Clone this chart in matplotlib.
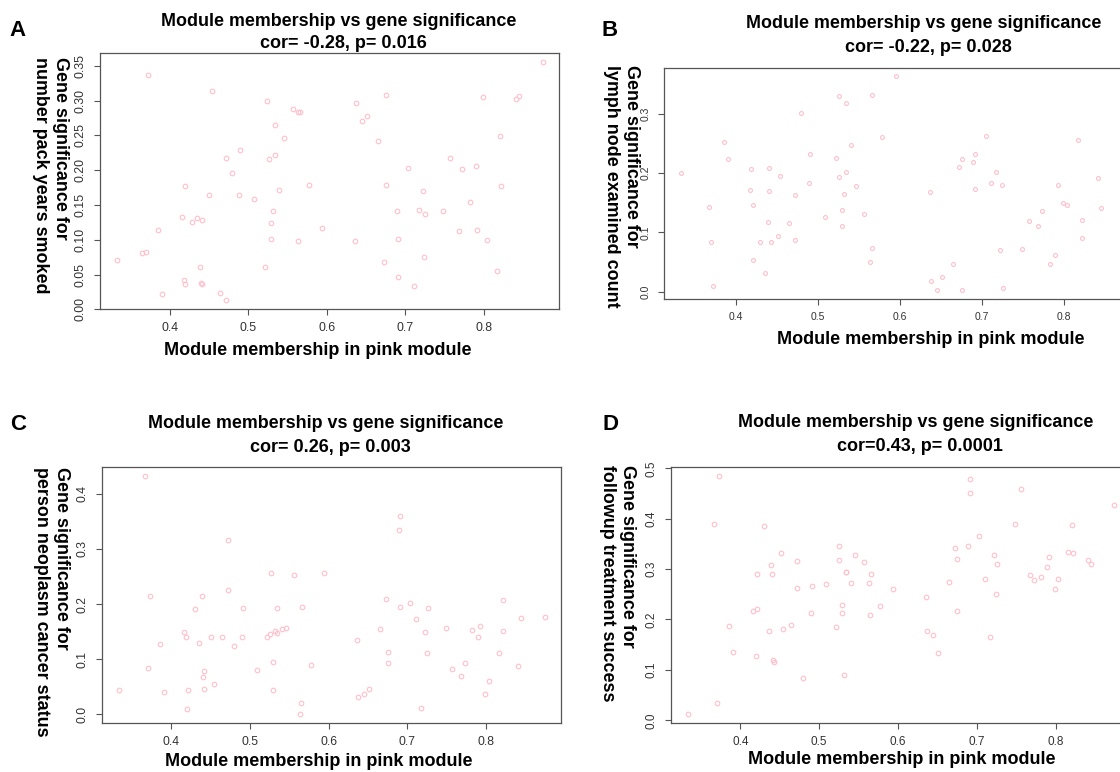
import matplotlib
matplotlib.use('Agg')
import matplotlib.pyplot as plt

plt.rcParams['font.family'] = ['Liberation Sans', 'DejaVu Sans']

# panel A: pack years smoked
a_mm = [0.372, 0.4535, 0.524, 0.534, 0.5456, 0.490, 0.4717, 0.526, 0.534, 0.479,
        0.420, 0.4505, 0.4887, 0.508, 0.5396, 0.532, 0.529, 0.416, 0.4288, 0.4348,
        0.4408, 0.3855, 0.5287, 0.3325, 0.365, 0.370, 0.439, 0.5218, 0.418, 0.420,
        0.4395, 0.4415, 0.390, 0.4637, 0.4713, 0.875, 0.6755, 0.799, 0.8415, 0.8454,
        0.637, 0.5567, 0.563, 0.566, 0.6513, 0.6445, 0.665, 0.821, 0.757, 0.773,
        0.7898, 0.704, 0.5775, 0.6755, 0.8225, 0.7227, 0.783, 0.689, 0.717, 0.7256,
        0.7487, 0.5944, 0.7685, 0.7918, 0.5634, 0.6365, 0.6913, 0.8042, 0.7243, 0.6726,
        0.8166, 0.6908, 0.7112]
a_gs = [0.336, 0.313, 0.299, 0.265, 0.246, 0.229, 0.218, 0.2165, 0.221, 0.196,
        0.177, 0.164, 0.164, 0.159, 0.172, 0.141, 0.124, 0.133, 0.126, 0.131,
        0.128, 0.114, 0.1006, 0.0708, 0.081, 0.082, 0.061, 0.061, 0.0417, 0.036,
        0.038, 0.037, 0.022, 0.024, 0.013, 0.355, 0.3075, 0.305, 0.3026, 0.307,
        0.297, 0.2874, 0.283, 0.284, 0.2777, 0.2706, 0.242, 0.2485, 0.217, 0.2016,
        0.2055, 0.2035, 0.179, 0.178, 0.1776, 0.1695, 0.1546, 0.1408, 0.1431, 0.1374,
        0.1417, 0.1168, 0.113, 0.1144, 0.0986, 0.0981, 0.1014, 0.100, 0.0747, 0.068,
        0.0546, 0.046, 0.0335]

# panel B: lymph node examined count
b_mm = [0.3333, 0.386, 0.391, 0.367, 0.370, 0.3726, 0.4792, 0.4908, 0.4896, 0.419,
        0.441, 0.4544, 0.417, 0.4403, 0.4204, 0.4718, 0.4398, 0.4643, 0.451, 0.4721,
        0.4295, 0.4423, 0.4208, 0.4357, 0.5082, 0.5219, 0.526, 0.5343, 0.5323, 0.529,
        0.5294, 0.5252, 0.5343, 0.540, 0.5945, 0.5663, 0.5778, 0.546, 0.5567, 0.5654,
        0.5638, 0.6363, 0.6372, 0.6447, 0.6513, 0.665, 0.6757, 0.7044, 0.6724, 0.6757,
        0.6894, 0.6915, 0.691, 0.7172, 0.711, 0.7246, 0.7221, 0.7259, 0.7488, 0.7566,
        0.7682, 0.7731, 0.7918, 0.7989, 0.8038, 0.7893, 0.7823, 0.8163, 0.8213, 0.8222,
        0.8416, 0.8453, 0.8747]
b_gs = [0.1996, 0.2518, 0.2231, 0.1433, 0.0843, 0.0101, 0.3007, 0.232, 0.1827, 0.2063,
        0.2085, 0.1945, 0.172, 0.1697, 0.1456, 0.1625, 0.1175, 0.1158, 0.0933, 0.0866,
        0.0832, 0.0832, 0.0534, 0.032, 0.1254, 0.2248, 0.1938, 0.2012, 0.164, 0.1377,
        0.1112, 0.3293, 0.3175, 0.247, 0.3635, 0.331, 0.2613, 0.178, 0.1315, 0.0731,
        0.0506, 0.1675, 0.018, 0.0023, 0.0248, 0.0472, 0.0034, 0.2619, 0.2102, 0.2231,
        0.2186, 0.2316, 0.1736, 0.2012, 0.1827, 0.1793, 0.0703, 0.0057, 0.0714, 0.1197,
        0.1102, 0.136, 0.1803, 0.149, 0.1456, 0.0624, 0.0461, 0.2557, 0.1208, 0.0905,
        0.1916, 0.1405, 0.1613]

# panel C: person neoplasm cancer status
c_mm = [0.367, 0.4724, 0.472, 0.3729, 0.4398, 0.430, 0.4914, 0.5266, 0.534, 0.4169,
        0.4195, 0.3865, 0.436, 0.4512, 0.4643, 0.4796, 0.4897, 0.5223, 0.5257, 0.5325,
        0.534, 0.5405, 0.546, 0.5291, 0.5088, 0.3704, 0.4415, 0.4406, 0.4546, 0.3336,
        0.4212, 0.4423, 0.530, 0.3907, 0.4207, 0.6912, 0.6895, 0.5566, 0.5943, 0.6726,
        0.6908, 0.7039, 0.726, 0.7112, 0.8212, 0.8449, 0.8745, 0.5659, 0.6654, 0.7221,
        0.7492, 0.7822, 0.792, 0.7894, 0.822, 0.6366, 0.676, 0.7246, 0.8161, 0.6755,
        0.7733, 0.5778, 0.7568, 0.7682, 0.8411, 0.8038, 0.7987, 0.651, 0.6446, 0.637,
        0.5651, 0.5634, 0.717]
c_gs = [0.4328, 0.3161, 0.2254, 0.2146, 0.2146, 0.191, 0.1922, 0.2563, 0.1928, 0.1487,
        0.1402, 0.1281, 0.1287, 0.1402, 0.1408, 0.1245, 0.1408, 0.1402, 0.1463, 0.1517,
        0.1469, 0.1547, 0.1571, 0.0955, 0.0804, 0.0834, 0.078, 0.0683, 0.0544, 0.0447,
        0.0447, 0.0453, 0.0435, 0.0399, 0.0103, 0.359, 0.3336, 0.2526, 0.2557, 0.2085,
        0.1952, 0.2019, 0.1928, 0.1735, 0.2073, 0.1741, 0.1759, 0.194, 0.1553, 0.1499,
        0.1571, 0.1529, 0.1596, 0.1408, 0.1511, 0.1348, 0.1136, 0.1118, 0.1118, 0.0925,
        0.0931, 0.0895, 0.0828, 0.0689, 0.087, 0.0604, 0.0375, 0.0465, 0.0363, 0.0308,
        0.0205, 0.0012, 0.0121]

# panel D: followup treatment success
d_mm = [0.3725, 0.3666, 0.4296, 0.4511, 0.4393, 0.4719, 0.4207, 0.4406, 0.4723, 0.4909,
        0.5082, 0.5255, 0.5247, 0.5336, 0.5344, 0.5399, 0.5293, 0.5285, 0.5217, 0.4892,
        0.4165, 0.4207, 0.3861, 0.4359, 0.4541, 0.4638, 0.3907, 0.4194, 0.4414, 0.4423,
        0.479, 0.5319, 0.3704, 0.3332, 0.6908, 0.6908, 0.7559, 0.8734, 0.7483, 0.8202,
        0.703, 0.5454, 0.5564, 0.5657, 0.5631, 0.594, 0.6722, 0.689, 0.675, 0.7216,
        0.725, 0.7106, 0.7241, 0.6649, 0.6358, 0.5771, 0.5649, 0.675, 0.6366, 0.6443,
        0.6506, 0.7166, 0.7677, 0.7728, 0.7816, 0.7888, 0.7909, 0.8032, 0.7985, 0.815,
        0.8214, 0.8404, 0.8446]
d_gs = [0.4854, 0.3896, 0.3856, 0.3327, 0.3075, 0.3155, 0.2897, 0.2897, 0.2626, 0.2665,
        0.2705, 0.3459, 0.3175, 0.2943, 0.2943, 0.2731, 0.2295, 0.2136, 0.1858, 0.2136,
        0.2176, 0.2216, 0.1872, 0.1779, 0.1819, 0.1885, 0.1362, 0.1283, 0.1204, 0.1157,
        0.0847, 0.0906, 0.0337, 0.0132, 0.4795, 0.4511, 0.4583, 0.4272, 0.389, 0.3869,
        0.3651, 0.328, 0.3142, 0.291, 0.2731, 0.2599, 0.3413, 0.3459, 0.3208, 0.328,
        0.3095, 0.2804, 0.2507, 0.2738, 0.2447, 0.2275, 0.209, 0.2176, 0.1766, 0.17,
        0.1343, 0.1647, 0.289, 0.2791, 0.2837, 0.3036, 0.3247, 0.2804, 0.2599, 0.3333,
        0.332, 0.3175, 0.3108]

x_ticks = [0.4, 0.5, 0.6, 0.7, 0.8]
x_label = 'Module membership in pink module'
title = 'Module membership vs gene significance'

W, H = 1120, 772
fig = plt.figure(figsize=(11.2, 7.72), dpi=100)


def fx(x):
    return x / W


def fy(y):
    return 1 - y / H


def panel(box, xlim, ylim, mm, gs, yticks, yfmt, fs, ms):
    left, top, right, bottom = box
    ax = fig.add_axes([fx(left), fy(bottom), (right - left) / W, (bottom - top) / H])
    ax.plot(mm, gs, 'o', mfc='none', mec='pink', ms=ms, mew=0.8)
    ax.set_xlim(xlim)
    ax.set_ylim(ylim)
    ax.set_xticks(x_ticks)
    ax.set_xticklabels(['%.1f' % v for v in x_ticks])
    ax.set_yticks(yticks)
    ax.set_yticklabels([yfmt % v for v in yticks], rotation=90, va='center')
    for s in ax.spines.values():
        s.set_color('#555555')
        s.set_linewidth(0.9)
    ax.tick_params(length=4.5, width=0.8, color='#555555', labelsize=fs,
                   labelcolor='#333333', pad=5)
    return ax


panel((100, 52.7, 559, 309.3), (0.3112, 0.896), (0.0, 0.3687), a_mm, a_gs,
      [0, 0.05, 0.10, 0.15, 0.20, 0.25, 0.30, 0.35], '%.2f', 8.9, 3.3)
panel((663.7, 67.7, 1160, 299), (0.3122, 0.9166), (-0.0123, 0.3775), b_mm, b_gs,
      [0, 0.1, 0.2, 0.3], '%.1f', 7.5, 2.8)
panel((101.7, 466.7, 561, 722.7), (0.312, 0.8952), (-0.0152, 0.449), c_mm, c_gs,
      [0, 0.1, 0.2, 0.3, 0.4], '%.1f', 8.8, 3.3)
panel((671, 466.7, 1160, 722.7), (0.3122, 0.932), (-0.0048, 0.5032), d_mm, d_gs,
      [0, 0.1, 0.2, 0.3, 0.4, 0.5], '%.1f', 8.5, 3.3)

bold = dict(fontweight='bold', ha='center', va='center')

# titles
for x, y1, y2, sub in [(339, 21, 44, 'cor= -0.28, p= 0.016'),
                       (924, 23, 47, 'cor= -0.22, p= 0.028'),
                       (326, 424, 448, 'cor= 0.26, p= 0.003'),
                       (915.5, 423, 446.7, 'cor=0.43, p= 0.0001')]:
    fig.text(fx(x), fy(y1), title, fontsize=12.9, **bold)
    fig.text(fx(x + 4), fy(y2), sub, fontsize=13, **bold)

# x labels
for x, y in [(318, 350), (930.5, 340), (318.7, 761.7), (902, 760)]:
    fig.text(fx(x), fy(y), x_label, fontsize=13, **bold)

# y labels
for x, y, txt in [(50.5, 57, 'Gene significance for\nnumber pack years smoked'),
                  (621.5, 65, 'Gene significance for\nlymph node examined count'),
                  (51.5, 466.7, 'Gene significance for\nperson neoplasm cancer status'),
                  (617.5, 465, 'Gene significance for\nfollowup treatment success')]:
    fig.text(fx(x), fy(y), txt, fontsize=12.9, fontweight='bold', rotation=270,
             ha='center', va='top', multialignment='left', linespacing=1.25)

# panel letters
for x, y, s in [(18, 31, 'A'), (610, 30, 'B'), (18, 425, 'C'), (610, 424.5, 'D')]:
    fig.text(fx(x), fy(y), s, fontsize=16, **bold)

fig.savefig('out.png', dpi=100)
